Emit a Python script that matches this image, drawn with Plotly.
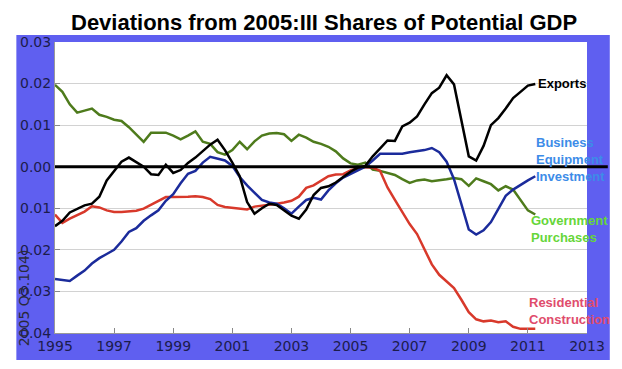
import plotly.graph_objects as go

# Quarterly dates 1995Q1 .. 2011Q2 (decimal years)
years = [1995 + 0.25 * i for i in range(66)]

exports = [
    -0.0143, -0.0130, -0.0110, -0.0101, -0.0093, -0.0089, -0.0072, -0.0033,
    -0.0010, 0.0012, 0.0022, 0.0010, 0.0000, -0.0018, -0.0020, 0.0005,
    -0.0015, -0.0008, 0.0009, 0.0022, 0.0037, 0.0053, 0.0065, 0.0040,
    0.0010, -0.0023, -0.0085, -0.0113, -0.0100, -0.0089, -0.0092, -0.0106,
    -0.0118, -0.0125, -0.0103, -0.0068, -0.0051, -0.0047, -0.0038, -0.0025,
    -0.0012, -0.0002, 0.0002, 0.0025, 0.0045, 0.0063, 0.0062, 0.0097,
    0.0106, 0.0121, 0.0150, 0.0177, 0.0190, 0.0220, 0.0198, 0.0110,
    0.0025, 0.0015, 0.0050, 0.0100, 0.0117, 0.0140, 0.0165, 0.0180,
    0.0195, 0.0199,
]

business_equipment = [
    -0.0270, -0.0272, -0.0275, -0.0262, -0.0250, -0.0233, -0.0220, -0.0210,
    -0.0200, -0.0180, -0.0157, -0.0148, -0.0130, -0.0117, -0.0105, -0.0082,
    -0.0066, -0.0040, -0.0017, -0.0010, 0.0010, 0.0024, 0.0020, 0.0015,
    0.0002, -0.0025, -0.0045, -0.0062, -0.0080, -0.0086, -0.0089, -0.0100,
    -0.0113, -0.0096, -0.0080, -0.0075, -0.0079, -0.0057, -0.0040, -0.0026,
    -0.0017, -0.0010, 0.0000, 0.0015, 0.0031, 0.0031, 0.0031, 0.0031,
    0.0035, 0.0038, 0.0040, 0.0045, 0.0035, 0.0012, -0.0030, -0.0090,
    -0.0151, -0.0163, -0.0153, -0.0133, -0.0100, -0.0070, -0.0055, -0.0043,
    -0.0033, -0.0023,
]

government = [
    0.0197, 0.0180, 0.0150, 0.0130, 0.0135, 0.0140, 0.0125, 0.0120,
    0.0113, 0.0110, 0.0095, 0.0078, 0.0060, 0.0082, 0.0082, 0.0082,
    0.0075, 0.0066, 0.0075, 0.0085, 0.0060, 0.0055, 0.0035, 0.0029,
    0.0040, 0.0060, 0.0042, 0.0061, 0.0075, 0.0080, 0.0081, 0.0078,
    0.0062, 0.0077, 0.0070, 0.0060, 0.0055, 0.0048, 0.0037, 0.0020,
    0.0008, 0.0005, 0.0010, -0.0007, -0.0010, -0.0015, -0.0020, -0.0030,
    -0.0039, -0.0033, -0.0031, -0.0035, -0.0033, -0.0030, -0.0027, -0.0030,
    -0.0046, -0.0028, -0.0035, -0.0042, -0.0057, -0.0047, -0.0055, -0.0080,
    -0.0105, -0.0115,
]

residential = [
    -0.0115, -0.0135, -0.0125, -0.0117, -0.0108, -0.0095, -0.0098, -0.0105,
    -0.0109, -0.0109, -0.0108, -0.0106, -0.0101, -0.0092, -0.0082, -0.0073,
    -0.0073, -0.0073, -0.0072, -0.0071, -0.0073, -0.0078, -0.0092, -0.0097,
    -0.0099, -0.0101, -0.0103, -0.0096, -0.0094, -0.0092, -0.0089, -0.0086,
    -0.0082, -0.0072, -0.0051, -0.0045, -0.0033, -0.0023, -0.0019, -0.0018,
    -0.0009, -0.0003, -0.0001, -0.0002, -0.0010, -0.0050, -0.0080, -0.0110,
    -0.0138, -0.0162, -0.0200, -0.0235, -0.0260, -0.0275, -0.0292, -0.0320,
    -0.0350, -0.0367, -0.0372, -0.0370, -0.0374, -0.0372, -0.0385, -0.0390,
    -0.0390, -0.0390,
]

x_ticks = [1995, 1997, 1999, 2001, 2003, 2005, 2007, 2009, 2011, 2013]
y_ticks = [-0.04, -0.03, -0.02, -0.01, 0.0, 0.01, 0.02, 0.03]
y_ticktext = ["0.04", "0.03", "0.02", "0.01", "0.00", "0.01", "0.02", "0.03"]

# page body has an 8px margin; size the figure to fit inside it
OFF = 8
W, H = 622 - OFF, 369 - OFF
# plot area in screen pixels: x 50..587, y 42..333
SL, SR, ST, SB = 50, 587, 42, 333
L, T = SL - OFF, ST - OFF
R, B = W - (SR - OFF), H - (SB - OFF)
pw, ph = SR - SL, SB - ST


def px(xs):
    return (xs - SL) / pw


def py(ys):
    return (SB - ys) / ph


fig = go.Figure()
series = [
    (government, "#4e7b1c"),
    (residential, "#d8392b"),
    (business_equipment, "#1b2b9b"),
    (exports, "#000000"),
]
for vals, col in series:
    fig.add_trace(go.Scatter(x=years, y=vals, mode="lines",
                             line=dict(color=col, width=2.5),
                             showlegend=False, hoverinfo="skip"))

shapes = [
    dict(type="rect", xref="paper", yref="paper", x0=px(11), x1=px(610),
         y0=py(360), y1=py(35), fillcolor="#5f5ff0", line=dict(width=0), layer="below"),
    dict(type="rect", xref="paper", yref="paper", x0=0, x1=1, y0=0, y1=1,
         fillcolor="white", line=dict(width=0), layer="below"),
    dict(type="line", xref="paper", yref="y", x0=0, x1=px(608), y0=0, y1=0,
         line=dict(color="black", width=3), layer="above"),
]

lab_font = "Liberation Sans, Arial, sans-serif"
annotations = [
    dict(text="<b>Deviations from 2005:III Shares of Potential GDP</b>",
         xref="paper", yref="paper", x=px(322), y=py(OFF), showarrow=False,
         font=dict(family=lab_font, size=22, color="black"),
         xanchor="center", yanchor="top"),
    dict(text="<b>Exports</b>", xref="paper", yref="paper", x=px(536), y=py(83),
         showarrow=False, xanchor="left", yanchor="middle",
         font=dict(family=lab_font, size=13, color="black")),
    dict(text="<b>Business<br>Equipment<br>Investment</b>", xref="paper", yref="paper",
         x=px(534), y=py(159), showarrow=False, xanchor="left", yanchor="middle",
         align="left", font=dict(family=lab_font, size=13, color="#3d8ce8")),
    dict(text="<b>Government<br>Purchases</b>", xref="paper", yref="paper",
         x=px(528), y=py(229), showarrow=False, xanchor="left", yanchor="middle",
         align="left", font=dict(family=lab_font, size=13, color="#66d63a")),
    dict(text="<b>Residential<br>Construction</b>", xref="paper", yref="paper",
         x=px(526), y=py(311), showarrow=False, xanchor="left", yanchor="middle",
         align="left", font=dict(family=lab_font, size=13, color="#e04c6c")),
    dict(text="2005 Q3.104)", xref="paper", yref="paper", x=px(19), y=py(298),
         showarrow=False, textangle=-90, xanchor="center", yanchor="middle",
         font=dict(family="DejaVu Sans", size=14, color="#2a2a3a")),
]

fig.update_layout(
    width=W, height=H,
    margin=dict(l=L, r=R, t=T, b=B, pad=0),
    paper_bgcolor="white", plot_bgcolor="white",
    shapes=shapes, annotations=annotations,
    xaxis=dict(range=[1995, 2013], tickvals=x_ticks, ticks="inside", ticklen=5,
               tickcolor="#888888", showgrid=False, zeroline=False,
               showline=True, linecolor="#999999", linewidth=1,
               tickfont=dict(family="DejaVu Sans", size=14, color="#1c1c4c")),
    yaxis=dict(range=[-0.04, 0.03], tickvals=y_ticks, ticktext=y_ticktext,
               ticks="inside", ticklen=5, tickcolor="#888888",
               showgrid=True, gridcolor="#d2d2d2", gridwidth=1, zeroline=False,
               showline=True, linecolor="#999999", linewidth=1,
               tickfont=dict(family="DejaVu Sans", size=14, color="#1c1c4c")),
)

fig.write_html("out.html")
